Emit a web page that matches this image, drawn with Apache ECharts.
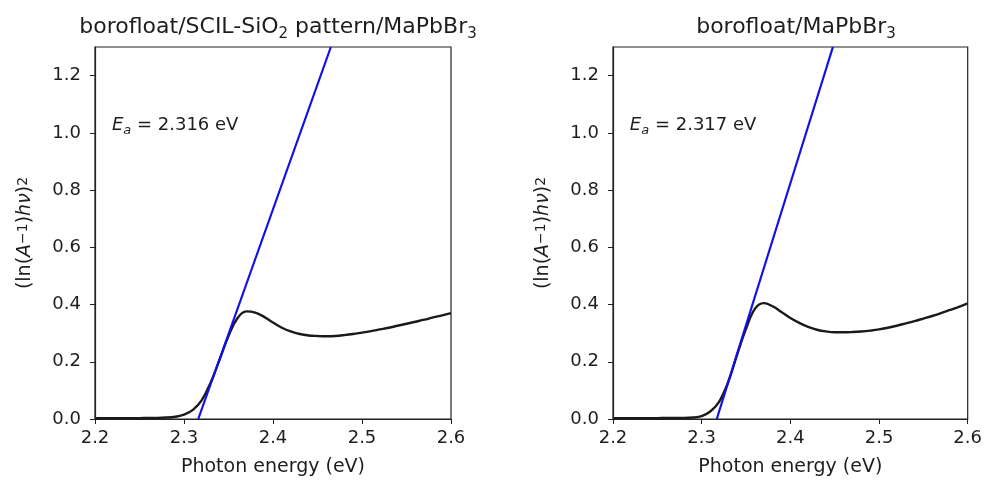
<!DOCTYPE html>
<html><head><meta charset="utf-8">
<script src="https://cdn.jsdelivr.net/npm/echarts@6/dist/echarts.min.js"></script>
<style>html,body{margin:0;padding:0;background:#fff}#c{width:985px;height:482px}</style>
</head><body><div id="c"></div>
<script>
// Photon energy (eV)
const energy = [2.20,2.21,2.22,2.23,2.24,2.25,2.26,2.27,2.28,2.29,2.30,2.31,2.32,2.33,2.34,2.35,2.36,2.37,2.38,2.39,2.40,2.41,2.42,2.43,2.44,2.45,2.46,2.47,2.48,2.49,2.50,2.51,2.52,2.53,2.54,2.55,2.56,2.57,2.58,2.59,2.60];
// (ln(A^-1) h nu)^2, left panel: borofloat/SCIL-SiO2 pattern/MaPbBr3
const absLeft = [0.003,0.003,0.003,0.003,0.003,0.003,0.004,0.004,0.005,0.008,0.015,0.032,0.066,0.128,0.208,0.290,0.352,0.376,0.372,0.357,0.337,0.319,0.306,0.297,0.292,0.290,0.289,0.290,0.293,0.297,0.302,0.307,0.313,0.319,0.326,0.333,0.340,0.347,0.355,0.362,0.370];
// right panel: borofloat/MaPbBr3
const absRight = [0.003,0.003,0.003,0.003,0.003,0.003,0.004,0.004,0.004,0.005,0.010,0.027,0.062,0.130,0.225,0.315,0.385,0.405,0.394,0.374,0.353,0.336,0.322,0.312,0.306,0.303,0.303,0.304,0.306,0.309,0.313,0.319,0.326,0.334,0.342,0.351,0.360,0.370,0.381,0.392,0.404];
// Tauc linear fits (endpoints)
const fitLeftX = [2.316, 2.465];
const fitLeftY = [0, 1.3];
const fitRightX = [2.317, 2.448];
const fitRightY = [0, 1.3];
const gapLeft = '2.316';
const gapRight = '2.317';
const titles = ['borofloat/SCIL-SiO{sub|2} pattern/MaPbBr{sub|3}', 'borofloat/MaPbBr{sub|3}'];
const xTicks = [2.2, 2.3, 2.4, 2.5, 2.6];
const yTicks = [0, 0.2, 0.4, 0.6, 0.8, 1.0, 1.2];
const annotPos = [2.219, 1.026];

const FONT = 'DejaVu Sans';
const TXT = '#1e1e1e';
const chart = echarts.init(document.getElementById('c'), null, {renderer: 'canvas'});

const grids = [
  {left: 95, top: 47, width: 356, height: 373},
  {left: 613, top: 47, width: 357, height: 373}
];
function xAx(i) {
  return {
    type: 'value', gridIndex: i, min: 2.2, max: 2.6,
    name: 'Photon energy (eV)', nameLocation: 'middle', nameGap: 39,
    nameTextStyle: {fontFamily: FONT, fontSize: 19, color: TXT},
    axisLine: {show: true, onZero: false, lineStyle: {color: '#222', width: 1.2}},
    axisTick: {show: true, length: 5, lineStyle: {color: '#222'}, customValues: xTicks},
    axisLabel: {fontFamily: FONT, fontSize: 18, color: TXT, margin: 10, customValues: xTicks,
      formatter: v => v.toFixed(1)},
    splitLine: {show: false}
  };
}
function yAx(i) {
  return {
    type: 'value', gridIndex: i, min: 0, max: 1.3,
    name: '(ln({it|A}{sup|−1}){it|hν}){sup|2}', nameLocation: 'middle', nameGap: 60, nameRotate: 90,
    nameTextStyle: {fontFamily: FONT, fontSize: 19, color: TXT,
      rich: {
        it: {fontFamily: FONT, fontStyle: 'italic', fontSize: 19, color: TXT},
        sup: {fontFamily: FONT, fontSize: 14, color: TXT, verticalAlign: 'top', lineHeight: 14}
      }},
    axisLine: {show: true, onZero: false, lineStyle: {color: '#222', width: 1.2}},
    axisTick: {show: true, length: 5, lineStyle: {color: '#222'}, customValues: yTicks},
    axisLabel: {fontFamily: FONT, fontSize: 18, color: TXT, margin: 14, customValues: yTicks,
      formatter: v => v.toFixed(1)},
    splitLine: {show: false}
  };
}
function zip(a, b) { return a.map((v, k) => [v, b[k]]); }
function annot(i, val) {
  return {
    type: 'scatter', xAxisIndex: i, yAxisIndex: i, symbolSize: 0, silent: true,
    itemStyle: {opacity: 1},
    data: [annotPos],
    label: {show: true, position: 'right', distance: 0, opacity: 1,
      formatter: '{it|E}{sub|a}{n| = ' + val + ' eV}',
      rich: {
        n: {fontFamily: FONT, fontSize: 18, color: TXT, lineHeight: 24},
        it: {fontFamily: FONT, fontStyle: 'italic', fontSize: 18, color: TXT, lineHeight: 24},
        sub: {fontFamily: FONT, fontStyle: 'italic', fontSize: 13, color: TXT, verticalAlign: 'bottom', lineHeight: 13}
      }}
  };
}
const titleRich = {sub: {fontFamily: FONT, fontSize: 15, color: TXT, verticalAlign: 'bottom', lineHeight: 15}};
chart.setOption({
  backgroundColor: '#fff',
  animation: false,
  title: [
    {text: titles[0], left: 273, top: 7, textAlign: 'center',
      textStyle: {fontFamily: FONT, fontSize: 22, fontWeight: 'normal', color: TXT, lineHeight: 30, rich: titleRich}},
    {text: titles[1], left: 791, top: 7, textAlign: 'center',
      textStyle: {fontFamily: FONT, fontSize: 22, fontWeight: 'normal', color: TXT, lineHeight: 30, rich: titleRich}}
  ],
  grid: grids.map(g => Object.assign({show: true, borderColor: '#222', borderWidth: 1.2, backgroundColor: '#fff', containLabel: false}, g)),
  xAxis: [xAx(0), xAx(1)],
  yAxis: [yAx(0), yAx(1)],
  series: [
    {type: 'line', xAxisIndex: 0, yAxisIndex: 0, data: zip(energy, absLeft), smooth: 0.4, showSymbol: false,
      lineStyle: {color: '#1a1a1a', width: 2.4}, z: 2},
    {type: 'line', xAxisIndex: 0, yAxisIndex: 0, data: zip(fitLeftX, fitLeftY), showSymbol: false,
      lineStyle: {color: '#1010e8', width: 2.2}, z: 3},
    {type: 'line', xAxisIndex: 1, yAxisIndex: 1, data: zip(energy, absRight), smooth: 0.4, showSymbol: false,
      lineStyle: {color: '#1a1a1a', width: 2.4}, z: 2},
    {type: 'line', xAxisIndex: 1, yAxisIndex: 1, data: zip(fitRightX, fitRightY), showSymbol: false,
      lineStyle: {color: '#1010e8', width: 2.2}, z: 3},
    annot(0, gapLeft),
    annot(1, gapRight)
  ]
});
</script></body></html>
